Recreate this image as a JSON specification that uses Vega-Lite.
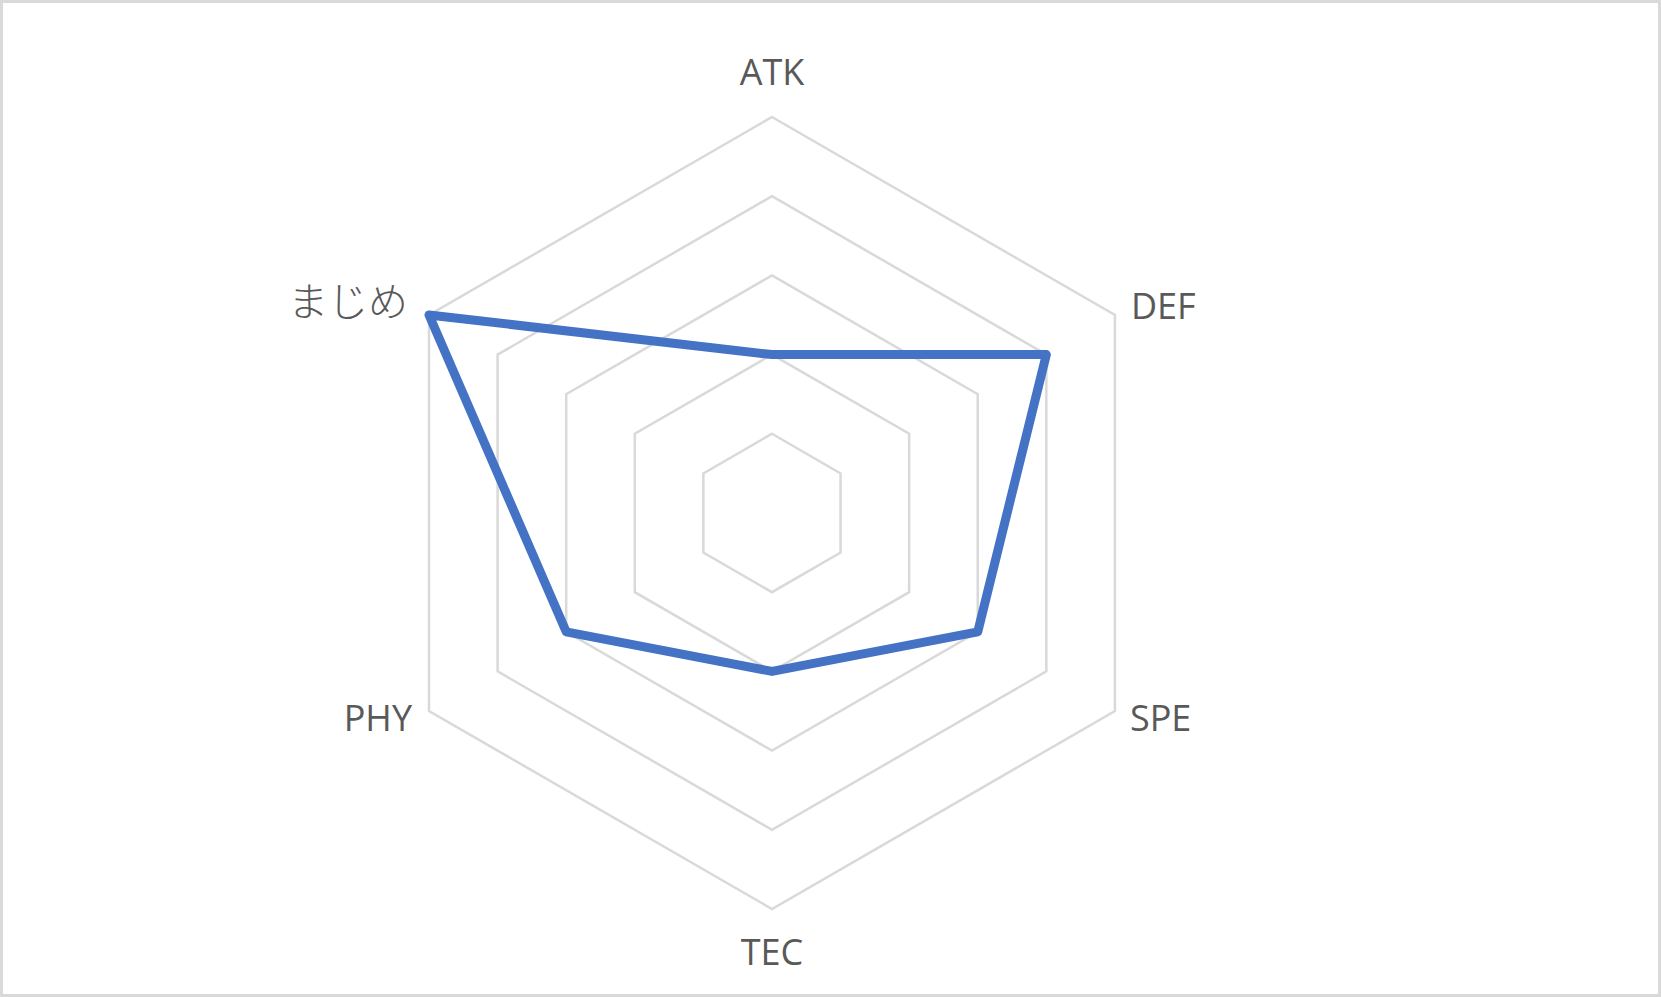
{
  "$schema": "https://vega.github.io/schema/vega-lite/v6.json",
  "width": 1661,
  "height": 997,
  "autosize": "none",
  "padding": 0,
  "background": "white",
  "config": {
    "view": {"stroke": "#D9D9D9", "strokeWidth": 6},
    "text": {"font": "Open Sans, Noto Sans CJK JP", "fontSize": 36, "color": "#595959"}
  },
  "datasets": {
    "stats": [
      {"axis": "ATK", "value": 2},
      {"axis": "DEF", "value": 4},
      {"axis": "SPE", "value": 3},
      {"axis": "TEC", "value": 2},
      {"axis": "PHY", "value": 3},
      {"axis": "まじめ", "value": 5}
    ],
    "grid": [
      {"level": 1, "axis": ["ATK", "DEF", "SPE", "TEC", "PHY", "まじめ"]},
      {"level": 2, "axis": ["ATK", "DEF", "SPE", "TEC", "PHY", "まじめ"]},
      {"level": 3, "axis": ["ATK", "DEF", "SPE", "TEC", "PHY", "まじめ"]},
      {"level": 4, "axis": ["ATK", "DEF", "SPE", "TEC", "PHY", "まじめ"]},
      {"level": 5, "axis": ["ATK", "DEF", "SPE", "TEC", "PHY", "まじめ"]}
    ]
  },
  "encoding": {
    "x": {"field": "px", "type": "quantitative", "axis": null, "scale": {"domain": [-9.747, 11.225], "nice": false, "zero": false}},
    "y": {"field": "py", "type": "quantitative", "axis": null, "scale": {"domain": [-6.111, 6.477], "nice": false, "zero": false}}
  },
  "layer": [
    {
      "data": {"name": "grid"},
      "transform": [
        {"flatten": ["axis"]},
        {"calculate": "indexof(['ATK','DEF','SPE','TEC','PHY','まじめ'], datum.axis)", "as": "idx"},
        {"calculate": "datum.level * sin(datum.idx * PI / 3)", "as": "px"},
        {"calculate": "datum.level * cos(datum.idx * PI / 3)", "as": "py"}
      ],
      "mark": {"type": "line", "interpolate": "linear-closed", "stroke": "#D9D9D9", "strokeWidth": 2.5},
      "encoding": {
        "detail": {"field": "level", "type": "nominal"},
        "order": {"field": "idx", "type": "quantitative"}
      }
    },
    {
      "data": {"name": "stats"},
      "transform": [
        {"calculate": "indexof(['ATK','DEF','SPE','TEC','PHY','まじめ'], datum.axis)", "as": "idx"},
        {"calculate": "datum.value * sin(datum.idx * PI / 3)", "as": "px"},
        {"calculate": "datum.value * cos(datum.idx * PI / 3)", "as": "py"}
      ],
      "mark": {"type": "line", "interpolate": "linear-closed", "stroke": "#4472C4", "strokeWidth": 9, "strokeJoin": "round"},
      "encoding": {
        "order": {"field": "idx", "type": "quantitative"}
      }
    },
    {
      "data": {"name": "stats"},
      "transform": [
        {"calculate": "indexof(['ATK','DEF','SPE','TEC','PHY','まじめ'], datum.axis)", "as": "idx"},
        {"calculate": "5 * sin(datum.idx * PI / 3)", "as": "px"},
        {"calculate": "5 * cos(datum.idx * PI / 3)", "as": "py"}
      ],
      "layer": [
        {
          "transform": [{"filter": "datum.axis == 'ATK'"}],
          "mark": {"type": "text", "align": "center", "baseline": "alphabetic", "dy": -32},
          "encoding": {"text": {"field": "axis"}}
        },
        {
          "transform": [{"filter": "datum.axis == 'TEC'"}],
          "mark": {"type": "text", "align": "center", "baseline": "alphabetic", "dy": 56},
          "encoding": {"text": {"field": "axis"}}
        },
        {
          "transform": [{"filter": "datum.axis == 'DEF'"}],
          "mark": {"type": "text", "align": "left", "baseline": "alphabetic", "dx": 16, "dy": 4},
          "encoding": {"text": {"field": "axis"}}
        },
        {
          "transform": [{"filter": "datum.axis == 'SPE'"}],
          "mark": {"type": "text", "align": "left", "baseline": "alphabetic", "dx": 15, "dy": 20},
          "encoding": {"text": {"field": "axis"}}
        },
        {
          "transform": [{"filter": "datum.axis == 'PHY'"}],
          "mark": {"type": "text", "align": "right", "baseline": "alphabetic", "dx": -17, "dy": 20},
          "encoding": {"text": {"field": "axis"}}
        },
        {
          "transform": [{"filter": "datum.axis == 'まじめ'"}],
          "mark": {"type": "text", "align": "right", "baseline": "middle", "dx": -21, "dy": -11, "fontSize": 40, "fontWeight": 300, "font": "Noto Sans CJK JP"},
          "encoding": {"text": {"field": "axis"}}
        }
      ]
    }
  ]
}
